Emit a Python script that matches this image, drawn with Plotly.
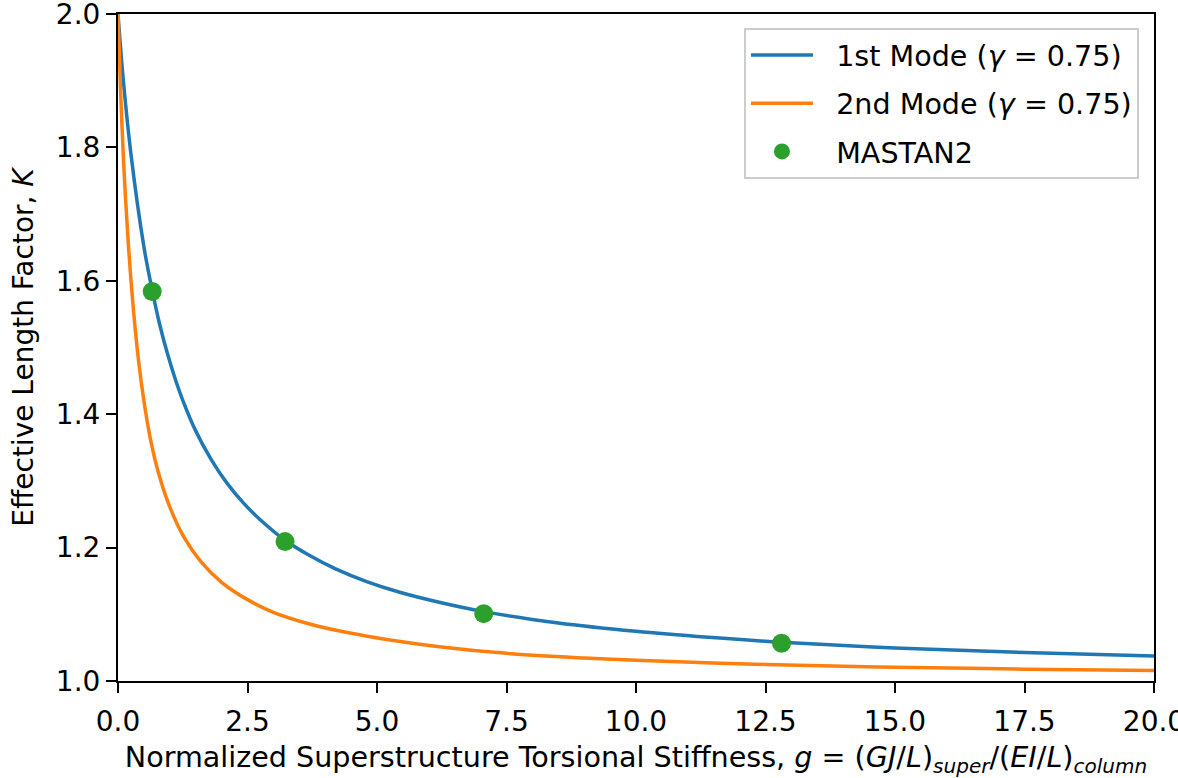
import plotly.graph_objects as go

# Values
g_mode1 = [0, 0.1, 0.25, 0.5, 0.66, 0.8, 0.95, 1.1, 1.26, 1.5, 1.8, 2.1, 2.42, 2.8,
           3.225, 3.7, 4.2, 4.8, 5.44, 6.2, 7.06, 8.5, 10.0, 11.4, 12.81, 15.0, 17.5, 20.0]
k_mode1 = [2.0, 1.903, 1.79, 1.651, 1.586, 1.536, 1.492, 1.454, 1.419, 1.375, 1.332, 1.297,
           1.267, 1.238, 1.211, 1.188, 1.168, 1.149, 1.133, 1.118, 1.104, 1.087, 1.0745,
           1.0655, 1.058, 1.0495, 1.0428, 1.0375]

g_mode2 = [0, 0.05, 0.11, 0.2, 0.3, 0.4, 0.5, 0.62, 0.8, 1.0, 1.27, 1.6, 2.0, 2.5, 3.0,
           3.7, 4.4, 5.25, 6.2, 7.5, 9.0, 10.0, 12.5, 15.0, 17.5, 20.0]
k_mode2 = [2.0, 1.885, 1.775, 1.655, 1.555, 1.478, 1.420, 1.365, 1.307, 1.261, 1.216, 1.179,
           1.148, 1.122, 1.103, 1.0855, 1.073, 1.0615, 1.0515, 1.0415, 1.0345, 1.031, 1.0248,
           1.0207, 1.0178, 1.0156]

g_mastan = [0.66, 3.225, 7.06, 12.81]
k_mastan = [1.584, 1.209, 1.101, 1.0565]

x_ticks = [0.0, 2.5, 5.0, 7.5, 10.0, 12.5, 15.0, 17.5, 20.0]
y_ticks = [1.0, 1.2, 1.4, 1.6, 1.8, 2.0]

FONT = "DejaVu Sans"
FS = 28
PAD = "\u00a0\u00a0"

fig = go.Figure()
fig.add_trace(go.Scatter(
    x=g_mode1, y=k_mode1, mode="lines", name=PAD + "1st Mode (<i>γ</i> = 0.75)",
    line=dict(color="#1f77b4", width=3.5, shape="spline", smoothing=1.0),
    legendgroup="a"))
fig.add_trace(go.Scatter(
    x=g_mode2, y=k_mode2, mode="lines", name=PAD + "2nd Mode (<i>γ</i> = 0.75)",
    line=dict(color="#ff7f0e", width=3.5, shape="spline", smoothing=1.0),
    legendgroup="b"))
fig.add_trace(go.Scatter(
    x=g_mastan, y=k_mastan, mode="markers", name=PAD + "MASTAN2",
    marker=dict(color="#2ca02c", size=19),
    legendgroup="c"))

axis_common = dict(
    showline=True, linecolor="black", linewidth=2, mirror=True,
    ticks="outside", ticklen=10, tickwidth=2, tickcolor="black",
    showgrid=False, zeroline=False, ticklabeloverflow="allow",
    tickfont=dict(family=FONT, size=FS, color="black"),
)

fig.update_xaxes(
    range=[0, 20], tickvals=x_ticks, ticktext=[f"{v:.1f}" for v in x_ticks],
    ticklabelstandoff=4,
    title=dict(
        text="Normalized Superstructure Torsional Stiffness, <i>g</i> = "
             "(<i>GJ</i>/<i>L</i>)<sub><i>super</i></sub>/(<i>EI</i>/<i>L</i>)<sub><i>column</i></sub>",
        font=dict(family=FONT, size=28.6, color="black"), standoff=14),
    **axis_common)
fig.update_yaxes(
    range=[1.0, 2.0], tickvals=y_ticks, ticktext=[f"{v:.1f}" for v in y_ticks],
    title=dict(text="Effective Length Factor, <i>K</i>\u00a0\u00a0",
               font=dict(family=FONT, size=FS, color="black"), standoff=14),
    **axis_common)

fig.update_layout(
    width=1178, height=778,
    margin=dict(l=118, r=24, t=14, b=97, autoexpand=False),
    paper_bgcolor="white", plot_bgcolor="white",
    font=dict(family=FONT, size=FS, color="black"),
    legend=dict(
        x=0.9855, y=0.979, xanchor="right", yanchor="top",
        bgcolor="rgba(255,255,255,0.8)", bordercolor="#cccccc", borderwidth=2,
        font=dict(family=FONT, size=28.6, color="black"),
        tracegroupgap=8, itemwidth=62,
    ),
)

fig.write_html("out.html", config={"displayModeBar": False},
               post_script="document.body.style.margin='0';document.body.style.padding='0';")
